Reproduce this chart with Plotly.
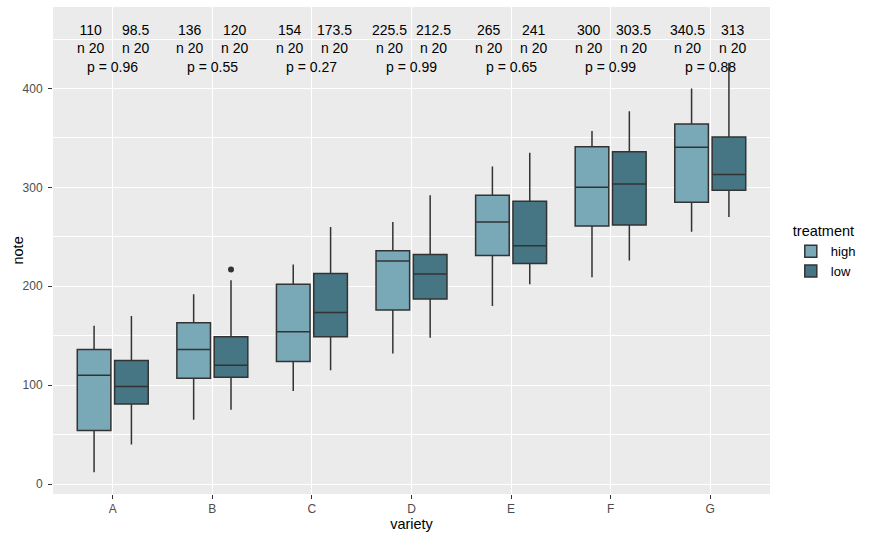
# Boxplot of note by variety and treatment, with medians, n and p-values on top
import plotly.graph_objects as go

# ── data ──────────────────────────────────────────────────────────────────────
varieties = ['A', 'B', 'C', 'D', 'E', 'F', 'G']
treatments = ['high', 'low']

high_lower = [12, 65, 94, 132, 180, 209, 255]
high_q1 = [54, 107, 124, 176, 231, 261, 285]
high_median = [110, 136, 154, 225.5, 265, 300, 340.5]
high_q3 = [136, 163, 202, 236, 292, 341, 364]
high_upper = [160, 192, 222, 265, 321, 357, 400]
high_n = [20, 20, 20, 20, 20, 20, 20]

low_lower = [40, 75, 115, 148, 202, 226, 270]
low_q1 = [81, 108, 149, 187, 223, 262, 297]
low_median = [98.5, 120, 173.5, 212.5, 241, 303.5, 313]
low_q3 = [125, 149, 213, 232, 286, 336, 351]
low_upper = [170, 206, 260, 292, 335, 377, 426]
low_n = [20, 20, 20, 20, 20, 20, 20]

# outliers: (variety, value)
low_outliers = [('B', 217)]

p_values = [0.96, 0.55, 0.27, 0.99, 0.65, 0.99, 0.88]

# ── style ─────────────────────────────────────────────────────────────────────
FONT = 'Liberation Sans, Arial, sans-serif'
col_high = '#79A8B7'
col_low = '#467684'
edge = '#333333'

dodge = 0.1875      # ggplot dodge (0.75 / 4)
box_w = 0.3375      # dodge2 padding 0.1
text_dodge = 0.225

pos = list(range(1, len(varieties) + 1))
pos_high = [p - dodge for p in pos]
pos_low = [p + dodge for p in pos]

fig = go.Figure()

for name, xs, lo, q1, med, q3, hi, col in [
    ('high', pos_high, high_lower, high_q1, high_median, high_q3, high_upper, col_high),
    ('low', pos_low, low_lower, low_q1, low_median, low_q3, low_upper, col_low),
]:
    fig.add_trace(go.Box(
        x=xs, q1=q1, median=med, q3=q3,
        lowerfence=lo, upperfence=hi,
        width=box_w,
        name=name,
        fillcolor=col,
        line=dict(color=edge, width=1.5),
        whiskerwidth=0,
        boxpoints=False,
    ))

fig.add_trace(go.Scatter(
    x=[pos_low[varieties.index(v)] for v, _ in low_outliers],
    y=[y for _, y in low_outliers],
    mode='markers',
    marker=dict(color=edge, size=6),
    showlegend=False,
    hoverinfo='skip',
))

# ── labels on top ─────────────────────────────────────────────────────────────
annotations = []
txt_font = dict(family=FONT, size=14, color='black')
for i, p in enumerate(pos):
    for xx, m, n in [(p - text_dodge, high_median[i], high_n[i]),
                     (p + text_dodge, low_median[i], low_n[i])]:
        annotations.append(dict(x=xx, y=450.5, xref='x', yref='y', text=f'{m:g}<br>n {n}',
                                showarrow=False, font=txt_font))
    annotations.append(dict(x=p, y=422, xref='x', yref='y', text=f'p = {p_values[i]:.2f}',
                            showarrow=False, font=txt_font))

# y axis title placed by hand (plotly puts it too far left)
annotations.append(dict(x=-0.0502, y=0.5, xref='paper', yref='paper', text='note',
                        textangle=-90, showarrow=False, xanchor='center', yanchor='middle',
                        font=dict(size=14.5, color='black', family=FONT)))

fig.update_layout(
    width=869,
    height=540,
    margin=dict(l=53, r=99, t=7, b=46),
    paper_bgcolor='white',
    plot_bgcolor='#EBEBEB',
    font=dict(family=FONT),
    showlegend=True,
    legend=dict(
        title=dict(text='treatment', font=dict(size=14.5, color='black', family=FONT)),
        font=dict(size=13, color='black', family=FONT),
        x=1.029, xanchor='left',
        y=0.568, yanchor='top',
        itemwidth=30,
        bgcolor='rgba(0,0,0,0)',
    ),
    xaxis=dict(
        range=[0.4, 7.6],
        tickvals=pos,
        ticktext=varieties,
        showgrid=True, gridcolor='white', gridwidth=1.2,
        zeroline=False,
        ticks='outside', ticklen=4, tickcolor=edge, tickwidth=1,
        tickfont=dict(size=12, color='#4D4D4D', family=FONT),
        title=dict(text='variety', font=dict(size=14.5, color='black', family=FONT), standoff=2),
    ),
    yaxis=dict(
        range=[-10.1, 482.4],
        tickvals=[0, 100, 200, 300, 400],
        showgrid=True, gridcolor='white', gridwidth=1.2,
        minor=dict(dtick=50, tick0=0, showgrid=True, gridcolor='white', gridwidth=0.6),
        zeroline=False,
        ticks='outside', ticklen=4, tickcolor=edge, tickwidth=1,
        ticklabelstandoff=3,
        tickfont=dict(size=12, color='#4D4D4D', family=FONT),
        automargin=False,
    ),
    annotations=annotations,
)

fig.write_html('out.html', config={'displayModeBar': False},
               post_script="document.body.style.margin='0';")
